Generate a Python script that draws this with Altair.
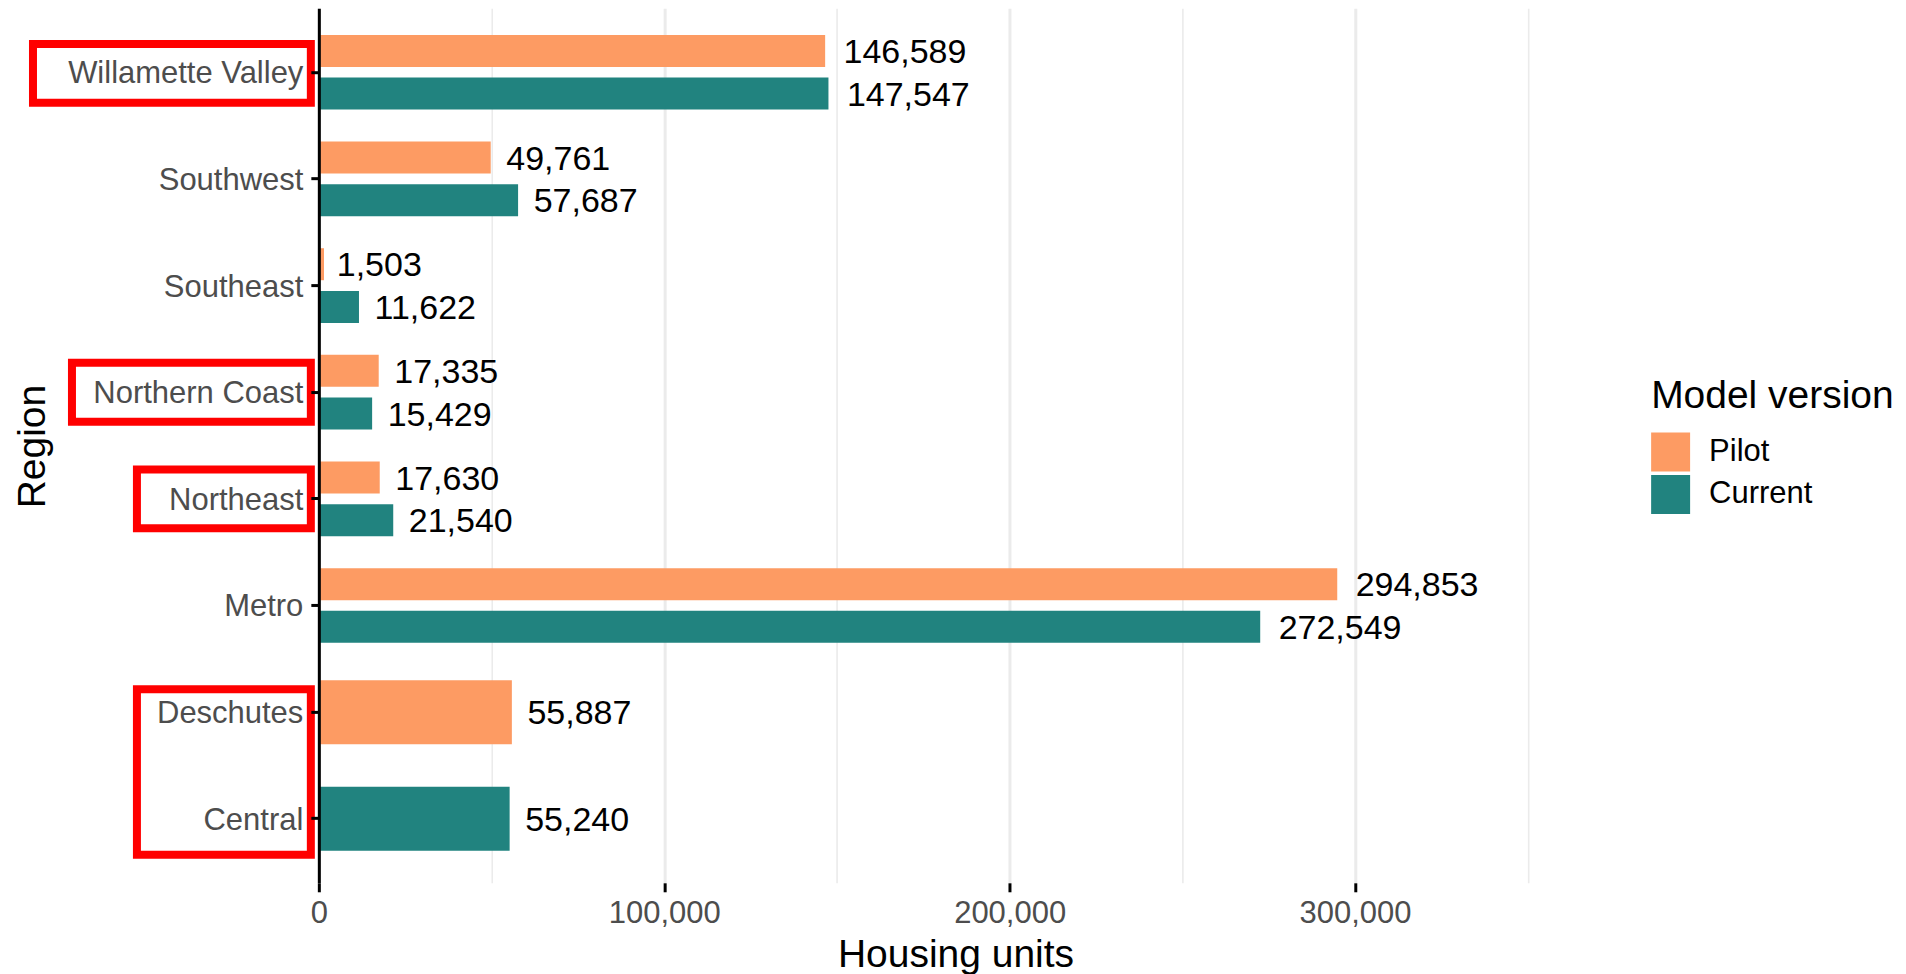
import altair as alt
import pandas as pd

# ---- data ----
regions = ["Willamette Valley", "Southwest", "Southeast", "Northern Coast",
           "Northeast", "Metro", "Deschutes", "Central"]
versions = ["Pilot", "Current"]
pilot_units = [146589, 49761, 1503, 17335, 17630, 294853, 55887, None]
current_units = [147547, 57687, 11622, 15429, 21540, 272549, None, 55240]
x_tick_values = [0, 50000, 100000, 150000, 200000, 250000, 300000, 350000]
boxed_starts = ["Willamette Valley", "Northern Coast", "Northeast", "Deschutes"]
boxed_ends = ["Willamette Valley", "Northern Coast", "Northeast", "Central"]

rows = []
for r, p, c in zip(regions, pilot_units, current_units):
    n = (p is not None) + (c is not None)
    for v, u in (("Pilot", p), ("Current", c)):
        if u is not None:
            rows.append({"Region": r, "Version": v, "Units": u, "paired": n == 2})
df = pd.DataFrame(rows)
paired = df[df["paired"]].drop(columns="paired")
single = df[~df["paired"]].drop(columns="paired")

FONT = "Liberation Sans"
ORANGE = "#FD9B63"
TEAL = "#21837F"
LABEL_SIZE = 34
MAJOR = "datum.value % 100000 === 0"
X_MAX = 367500
PLOT_W = 1270
PLOT_H = 875

def x_enc(field="Units"):
    return alt.X(
        f"{field}:Q",
        title="Housing units",
        scale=alt.Scale(domain=[0, X_MAX], nice=False, zero=True),
        axis=alt.Axis(
            values=x_tick_values, grid=True, gridColor="#EBEBEB",
            gridWidth={"condition": {"test": MAJOR, "value": 3}, "value": 1.6},
            domain=False, ticks=True, tickColor="black", tickWidth=3, tickSize=9,
            tickOpacity={"condition": {"test": MAJOR, "value": 1}, "value": 0},
            labelExpr="datum.value % 100000 === 0 ? format(datum.value, ',') : ''",
            labelFontSize=31, labelColor="#4D4D4D", labelPadding=7, labelFont=FONT,
            labelFlush=False, labelOverlap=False,
            titleFontSize=39, titleColor="black", titleFontWeight="normal",
            titleFont=FONT, titleX=637, titleY=84, titleBaseline="alphabetic",
            titleAlign="center",
        ),
    )

def y_enc(band=None):
    kw = {}
    if band is not None:
        kw["bandPosition"] = band
    return alt.Y(
        "Region:N", sort=regions, title="Region",
        scale=alt.Scale(domain=regions, paddingInner=0, paddingOuter=0.1),
        axis=alt.Axis(
            domain=True, domainColor="black", domainWidth=3,
            ticks=True, tickColor="black", tickWidth=3, tickSize=8,
            labelFontSize=31, labelColor="#4D4D4D", labelPadding=8,
            labelFont=FONT, labelLimit=500, labelOffset=2, grid=False, zindex=1,
            titleFontSize=39, titleColor="black", titleFontWeight="normal",
            titleFont=FONT, titleX=-274, titleY=438, titleAngle=270,
            titleBaseline="alphabetic", titleAlign="center",
        ),
        **kw,
    )

color_enc = alt.Color(
    "Version:N", title="Model version",
    scale=alt.Scale(domain=versions, range=[ORANGE, TEAL]),
    legend=alt.Legend(
        orient="none", legendX=1333, legendY=369, padding=0,
        titleFontSize=39, titleFontWeight="normal", titleColor="black",
        titleFont=FONT, titlePadding=16.5, titleLimit=600,
        labelFontSize=31, labelColor="black", labelFont=FONT, labelOffset=19,
        labelLimit=400,
        symbolType="square", symbolSize=1521, symbolStrokeWidth=0,
        symbolOpacity=1, rowPadding=3.4,
    ),
)

y_off = alt.YOffset(
    "Version:N", sort=versions,
    scale=alt.Scale(domain=versions, paddingInner=0.25, paddingOuter=0.375),
)

# labels sit 0.15 of their own width right of the bar end (hjust = -0.15)
units_per_px = X_MAX / PLOT_W
off_expr = f"0.15 * {LABEL_SIZE} * (0.556 * (length(datum.lbl) - 1) + 0.278)"
xl_expr = f"datum.Units + datum.off * {units_per_px}"

def labelled(data):
    return alt.Chart(data).transform_calculate(
        lbl="format(datum.Units, ',')"
    ).transform_calculate(
        off=off_expr
    ).transform_calculate(
        xl=xl_expr
    )

bars_pair = alt.Chart(paired).mark_bar().encode(
    x=x_enc(), y=y_enc(), yOffset=y_off, color=color_enc,
)
text_pair = labelled(paired).mark_text(
    align="left", baseline="middle", fontSize=LABEL_SIZE, color="black",
    font=FONT, dy=2,
).encode(
    x=x_enc("xl"), y=y_enc(), yOffset=y_off,
    text=alt.Text("lbl:N"),
)

bars_single = alt.Chart(single).mark_bar(height={"band": 0.6}).encode(
    x=x_enc(), y=y_enc(), color=color_enc,
)
text_single = labelled(single).mark_text(
    align="left", baseline="middle", fontSize=LABEL_SIZE, color="black",
    font=FONT, dy=2,
).encode(
    x=x_enc("xl"), y=y_enc(),
    text=alt.Text("lbl:N"),
)

# red annotation boxes around selected region labels
box_left = [-286, -247, -182, -182]
box_top = [0.235, 0.224, 0.224, 0.285]
box_bottom = [0.787, 0.776, 0.776, 0.837]
box_layers = []
for s, e, xl, bt, bb in zip(boxed_starts, boxed_ends, box_left, box_top, box_bottom):
    bdf = pd.DataFrame([{"Region": s, "RegionEnd": e}])
    box_layers.append(
        alt.Chart(bdf).mark_rect(
            fillOpacity=0, stroke="#FF0000", strokeWidth=8, clip=False,
        ).encode(
            x=alt.value(xl), x2=alt.value(-8),
            y=y_enc(bt),
            y2=alt.Y2("RegionEnd:N", bandPosition=bb, title="Region"),
        )
    )

chart = alt.layer(
    bars_pair, bars_single, text_pair, text_single, *box_layers
).properties(
    width=PLOT_W, height=PLOT_H,
    autosize=alt.AutoSizeParams(type="none"),
    padding={"left": 311, "top": 0, "right": 310, "bottom": 91},
).configure(
    font=FONT, background="white",
).configure_view(
    stroke=None,
)

chart.save("out.html", embed_options={"renderer": "svg", "actions": False})
